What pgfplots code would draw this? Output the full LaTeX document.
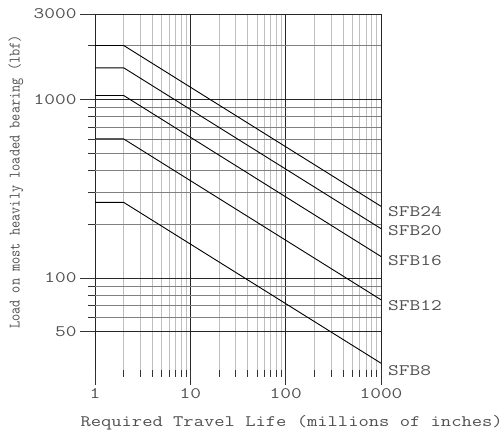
\documentclass[border=0pt]{standalone}
\usepackage{pgfplots}
\pgfplotsset{compat=1.18}
\usepackage{fontspec}
\setmainfont{Liberation Serif}
\newfontfamily\mono{Latin Modern Mono}[FakeStretch=1.3]
\newfontfamily\monox{Latin Modern Mono}[FakeStretch=1.25]
\newfontfamily\monoy{Latin Modern Mono}[FakeStretch=0.87]
\definecolor{txt}{HTML}{505050}
\begin{document}
\begin{tikzpicture}
\useasboundingbox (0,0) rectangle (504pt,434pt);
\begin{axis}[
  at={(95pt,64pt)}, anchor=south west,
  scale only axis, width=286pt, height=356pt,
  xmode=log, ymode=log,
  xmin=1, xmax=1000, ymin=30.6, ymax=3000,
  xtick={1,10,100,1000}, xticklabels={1,10,100,1000},
  minor xtick={2,3,4,5,6,7,8,9,20,30,40,50,60,70,80,90,200,300,400,500,600,700,800,900},
  ytick={50,100,1000,3000}, yticklabels={50,100,1000,3000},
  minor ytick={60,70,80,90,200,300,400,500,600,700,800,900,2000},
  grid=both,
  major grid style={black!85, line width=0.9pt},
  minor x grid style={black!25, line width=0.8pt},
  minor y grid style={black!50, line width=0.8pt},
  tick align=outside, xtick pos=bottom, ytick pos=left,
  major tick length=15pt, minor tick length=7pt,
  tick style={black!80, line width=0.8pt},
  axis line style={draw=none},
  ticklabel style={font=\mono\fontsize{16}{16}\selectfont, text=txt},
  clip=false,
]
\addplot[black, line width=0.9pt] coordinates {(1,2000) (2,2000) (1000,252)};
\addplot[black, line width=0.9pt] coordinates {(1,1500) (2,1500) (1000,189)};
\addplot[black, line width=0.9pt] coordinates {(1,1050) (2,1050) (1000,132)};
\addplot[black, line width=0.9pt] coordinates {(1,600) (2,600) (1000,75.6)};
\addplot[black, line width=0.9pt] coordinates {(1,265) (2,265) (1000,33.4)};
\begin{scope}[every node/.style={anchor=west, inner sep=0pt, xshift=7pt, text=txt, font=\mono\fontsize{16}{16}\selectfont}]
\node at (axis cs:1000,234) {SFB24};
\node at (axis cs:1000,184) {SFB20};
\node at (axis cs:1000,125) {SFB16};
\node at (axis cs:1000,69.8) {SFB12};
\node at (axis cs:1000,30.2) {SFB8};
\end{scope}
\end{axis}
\node[rotate=90, text=txt, inner sep=0pt, font=\monoy\fontsize{16}{16}\selectfont] at (16pt,252pt) {Load on most heavily loaded bearing (lbf)};
\node[anchor=base east, text=txt, inner sep=0pt, font=\monox\fontsize{16}{16}\selectfont] at (503pt,7.3pt) {Required Travel Life (millions of inches)};
\end{tikzpicture}
\end{document}
